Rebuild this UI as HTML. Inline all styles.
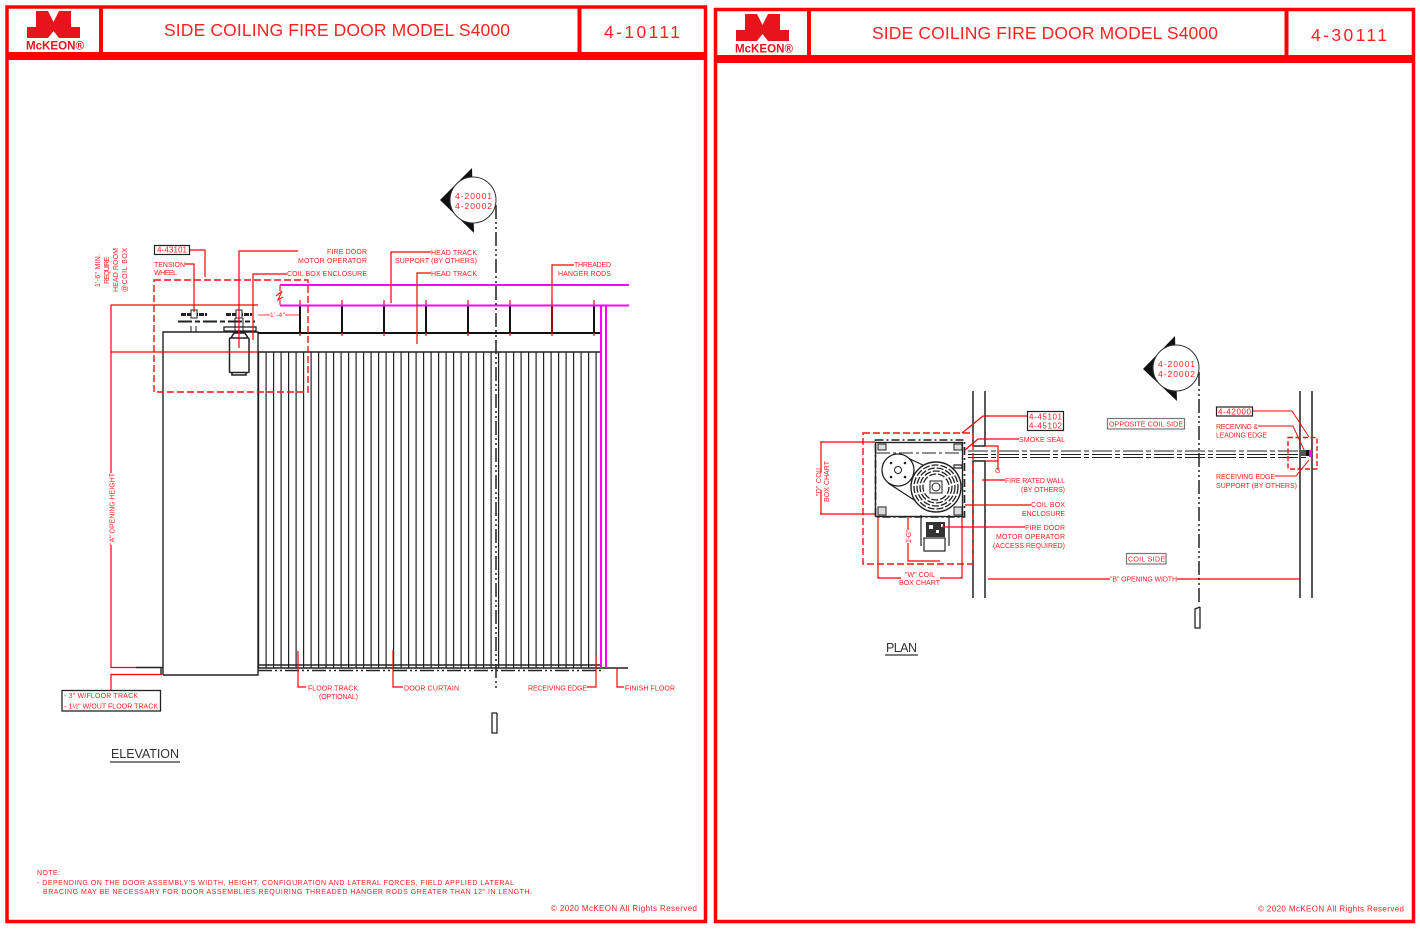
<!DOCTYPE html>
<html><head><meta charset="utf-8"><style>
html,body{margin:0;padding:0;background:#fff}
svg{display:block;filter:blur(.3px)}
text{font-family:"Liberation Sans",sans-serif;fill:#ff2020;font-size:7px}
.t{font-size:17.500px;fill:#f22}
.k{fill:#333;font-size:12.500px}
.l{stroke:#f00;stroke-width:1.200;fill:none}
.m{stroke:#f0f;stroke-width:2;fill:none}
.b{stroke:#222;stroke-width:1.200;fill:none}
.bb{stroke:#111;stroke-width:2;fill:none}
.d{stroke:#f11;stroke-width:1.400;fill:none;stroke-dasharray:7 3}
.s{stroke:#222;stroke-width:1.500;fill:none;stroke-dasharray:14 3 2 3 2 3}
</style></head><body>
<svg width="1420" height="929" viewBox="0 0 1420 929" xmlns="http://www.w3.org/2000/svg">
<rect width="1420" height="929" fill="#fff"/>

<!-- LEFT FRAME -->
<g fill="none" stroke="#f00">
<rect x="7" y="7" width="698.500" height="914.500" stroke-width="3.500"/>
<path d="M101 7V53M579.500 7V53" stroke-width="4"/>
</g>
<rect x="6" y="52" width="701" height="8" fill="#f00"/>
<polygon points="36,11 48,11 53.500,22 59,11 71,11 71,27 80,27 80,38 59,38 53.500,31 48,38 27,38 27,27 36,27" fill="#e8141c"/>
<text x="26" y="49.500" style="font-size:11.500px;font-weight:bold;fill:#e8141c" textLength="58" lengthAdjust="spacingAndGlyphs">McKEON®</text>
<text class="t" x="164" y="36" textLength="346">SIDE COILING FIRE DOOR MODEL S4000</text>
<text class="t" x="604" y="38" textLength="76">4-10111</text>

<!-- RIGHT FRAME -->
<g fill="none" stroke="#f00">
<rect x="715.500" y="9.500" width="698" height="912" stroke-width="3.500"/>
<path d="M809 9V55M1286.500 9V55" stroke-width="4"/>
</g>
<rect x="714" y="55" width="701" height="8" fill="#f00"/>
<polygon points="745,14 757,14 762.500,25 768,14 780,14 780,30 789,30 789,41 768,41 762.500,34 757,41 736,41 736,30 745,30" fill="#e8141c"/>
<text x="735" y="52.500" style="font-size:11.500px;font-weight:bold;fill:#e8141c" textLength="58" lengthAdjust="spacingAndGlyphs">McKEON®</text>
<text class="t" x="872" y="39" textLength="346">SIDE COILING FIRE DOOR MODEL S4000</text>
<text class="t" x="1311" y="41" textLength="76">4-30111</text>

<!-- ELEVATION -->
<line x1="258" y1="510" x2="601" y2="510" stroke="#222" stroke-width="316" stroke-dasharray="1.200 6.300"/>
<path class="b" d="M163 675V332H258V675H163M258 352H601V668M258 665H601M258 668H628M136 667.500H163M161 667V675" style="stroke-width:1.400"/>
<path class="s" d="M258 670.500H601"/>
<path class="bb" d="M258 333H600"/>
<path class="bb" d="M300 305V333M342 305V333M384 305V333M426 305V333M468 305V333M510 305V333M552 305V333M594 305V333"/>
<path class="l" d="M300 300V336M342 300V336M384 300V336M426 300V336M468 300V336M510 300V336M552 300V336M594 300V336" stroke-dasharray="5 28"/>
<path class="m" d="M280 285H629M280 305.500H629M601 306V668M606 306V668"/>
<path class="b" d="M280 291V285M280 305V300M276 296L282 291L278 300L283 297" style="stroke:#f22"/>
<!-- wheels -->
<g stroke="#222" fill="none">
<path d="M181 314.500H207M226 314.500H252" stroke-width="3" stroke-dasharray="5 1"/>
<path d="M178 321.500H255" stroke-width="2" stroke-dasharray="14 3 5 3"/>
<rect x="191" y="310" width="6" height="8" fill="#fff"/>
<rect x="236" y="310" width="6" height="8" fill="#fff"/>
<path d="M191 326V332M196 326V332M235 318V333M243 318V333"/>
<rect x="224" y="327" width="32" height="4" stroke-width="1.300"/>
<rect x="229.500" y="338" width="19.500" height="34.500" rx="1" stroke-width="1.500"/>
<path d="M232 373V375H246V373M231 338L234 333H245L248 338" stroke-width="1.600"/>
</g>
<path class="d" d="M154 280H308V392H154Z"/>
<path class="l" d="M111 305V473M111 545V668M111 305H258M111 352H258M111 667.500H136M111 690V674.500H162"/>
<text transform="translate(114.500 545) rotate(-90)" textLength="72">"A" OPENING HEIGHT</text>
<path class="l" d="M190 250H205V277M185 264H194V312M298 251H239V348M287 274H253V340"/>
<path class="l" d="M258 315H270M285 315H299" style="stroke-width:.8"/>
<text x="270" y="317" style="font-size:6.500px" textLength="15">1'-4"</text>
<rect x="154.500" y="245.500" width="35" height="9" fill="#fff" stroke="#222" stroke-width="1.200"/>
<text x="157" y="252.500" style="font-size:8px" textLength="30">4-43101</text>
<text x="154" y="267" textLength="31">TENSION</text>
<text x="154" y="275" textLength="23">WHEEL</text>
<text x="327" y="254" textLength="40">FIRE DOOR</text>
<text x="298" y="263" textLength="69">MOTOR OPERATOR</text>
<text x="287" y="276" textLength="80">COIL BOX ENCLOSURE</text>
<g transform="rotate(-90 0 0)">
<text x="-287" y="100" textLength="33">1'-6" MIN.</text>
<text x="-284" y="109" textLength="27">REQUIRE</text>
<text x="-292" y="118" textLength="44">HEAD ROOM</text>
<text x="-292" y="127" textLength="44">@COIL BOX</text>
</g>

<path class="l" d="M431 252H391V303M431 273H417V344M574 265H552V333"/>
<text x="431" y="255" textLength="46">HEAD TRACK</text>
<text x="395" y="263" textLength="82">SUPPORT (BY OTHERS)</text>
<text x="431" y="276" textLength="46">HEAD TRACK</text>
<text x="574" y="267" textLength="37">THREADED</text>
<text x="558" y="276" textLength="53">HANGER RODS</text>

<path class="s" d="M496 205V690"/>
<path class="b" d="M497 713H492V733H497V713" style="stroke-width:1.300"/>
<polygon points="440,200 472,168 474,233" fill="#111"/>
<circle cx="473" cy="200" r="23" fill="#fff" stroke="#333" stroke-width="1"/>
<text x="455" y="199" style="font-size:8.500px" textLength="37">4-20001</text>
<text x="455" y="209" style="font-size:8.500px" textLength="37">4-20002</text>

<path class="l" d="M298 651V687H306M393 650V687H403M596 655V687H587M617 668V687H624"/>
<text x="308" y="690.500" textLength="50">FLOOR TRACK</text>
<text x="319" y="699" textLength="39">(OPTIONAL)</text>
<text x="404" y="690.500" textLength="55">DOOR CURTAIN</text>
<text x="528" y="690.500" textLength="59">RECEIVING EDGE</text>
<text x="625" y="690.500" textLength="50">FINISH FLOOR</text>
<rect x="62" y="690.500" width="98.500" height="20.500" fill="#fff" stroke="#222" stroke-width="1.300"/>
<text x="64" y="698" textLength="74">- 3" W/FLOOR TRACK</text>
<text x="64" y="708.500" textLength="94">- 1½" W/OUT FLOOR TRACK</text>
<text class="k" x="111" y="758" textLength="68">ELEVATION</text>
<path d="M110 762H180" stroke="#333" stroke-width="1.300"/>

<text x="37" y="875" textLength="23">NOTE:</text>
<text x="37" y="885" textLength="477">- DEPENDING ON THE DOOR ASSEMBLY'S WIDTH, HEIGHT, CONFIGURATION AND LATERAL FORCES, FIELD APPLIED LATERAL</text>
<text x="43" y="894" textLength="489">BRACING MAY BE NECESSARY FOR DOOR ASSEMBLIES REQUIRING THREADED HANGER RODS GREATER THAN 12" IN LENGTH.</text>
<text x="551" y="911" style="font-size:8px" textLength="146">© 2020 McKEON All Rights Reserved</text>

<!-- PLAN -->
<path class="b" style="stroke-width:1.500" d="M973 391V446H985V391M973 598V461H985V598M1300 391V598M1312 391V598"/>
<path d="M968 451H1308M968 454.500H1308M968 457.500H1308" stroke="#222" stroke-width="1" stroke-dasharray="20 3 5 3"/>
<path class="l" d="M820 442H875M820 514H875M821 442V473M821 490V514M878 517V578H901M962 517V578H940M908 517V530M908 543V561H940"/>
<rect x="875.500" y="442.500" width="87" height="74" fill="#fff" stroke="#222" stroke-width="1.400"/>
<rect x="875.500" y="440" width="89" height="77" fill="none" stroke="#222" stroke-width="1.600" stroke-dasharray="8 3 2 3"/>
<path d="M878 444H886V450H878ZM878 507H886V515H878ZM954 444H962V450H954ZM954 507H962V515H954Z" fill="#ddd" stroke="#222"/>
<path class="b" d="M954 465H962V468H954Z"/>
<path d="M876 453H962" stroke="#222" stroke-width="1" stroke-dasharray="14 3 3 3"/>
<circle cx="898" cy="470" r="16" fill="#fff" stroke="#222" stroke-width="1.300"/>
<circle cx="898" cy="470" r="3.500" fill="none" stroke="#222"/>
<g fill="#222"><circle cx="891" cy="463" r="1.300"/><circle cx="905" cy="463" r="1.300"/><circle cx="891" cy="477" r="1.300"/><circle cx="905" cy="477" r="1.300"/></g>
<path class="b" d="M888 483L925 507M910 459L925 466"/>
<circle cx="936" cy="487" r="25" fill="#fff" stroke="#222" stroke-width="1.400"/>
<g fill="none" stroke="#222" stroke-width="1.300" stroke-dasharray="7 2">
<circle cx="936" cy="487" r="22"/><circle cx="936" cy="487" r="19"/><circle cx="936" cy="487" r="16"/><circle cx="936" cy="487" r="13"/>
</g>
<rect x="930" y="481" width="12" height="12" fill="#fff" stroke="#222"/>
<circle cx="936" cy="487" r="4" fill="none" stroke="#222"/>
<path class="b" d="M921 515V546M949 515V546"/>
<rect x="924" y="538" width="21" height="13" fill="#fff" stroke="#222" stroke-width="1.200"/>
<rect x="926" y="522" width="19" height="15" fill="#333"/>
<rect x="929" y="525" width="4" height="4" fill="#fff"/><rect x="936" y="530" width="3" height="3" fill="#fff"/><rect x="941" y="524" width="2" height="3" fill="#fff"/>
<path class="d" d="M863 433H973V564H863Z"/>
<path class="l" d="M1027 416H983L962 433M1019 439H978L965 450M985 446H998V470M985 461H998M1005 480H982M1031 505H965M1025 527H942M988 579H1110M1177 579H1300"/>
<rect x="1027.500" y="411.500" width="36" height="19" fill="#fff" stroke="#222" stroke-width="1.200"/>
<text x="1029" y="419.500" style="font-size:8px" textLength="33">4-45101</text>
<text x="1029" y="428.500" style="font-size:8px" textLength="33">4-45102</text>
<text x="1019" y="442" textLength="46">SMOKE SEAL</text>
<text x="1005" y="483" textLength="60">FIRE RATED WALL</text>
<text x="1021" y="492" textLength="44">(BY OTHERS)</text>
<text x="1031" y="507" textLength="34">COIL BOX</text>
<text x="1022" y="516" textLength="43">ENCLOSURE</text>
<text x="1025" y="530" textLength="40">FIRE DOOR</text>
<text x="996" y="539" textLength="69">MOTOR OPERATOR</text>
<text x="993" y="548" textLength="72">(ACCESS REQUIRED)</text>
<text x="905" y="577" textLength="30">"W" COIL</text>
<text x="899" y="585" textLength="41">BOX CHART</text>
<text x="995" y="473" style="font-size:7px">G</text>
<text transform="translate(911 543) rotate(-90)" style="font-size:7px" textLength="13">1'-G"</text>
<text transform="translate(821 496) rotate(-90)" textLength="30">"D" COIL</text>
<text transform="translate(829 502) rotate(-90)" textLength="41">BOX CHART</text>

<path class="s" d="M1199 372V605"/>
<path class="b" d="M1200 607L1195 609V628H1200V607" style="stroke-width:1.300"/>
<polygon points="1143,369 1175,336 1177,401" fill="#111"/>
<circle cx="1176" cy="368" r="23" fill="#fff" stroke="#333" stroke-width="1"/>
<text x="1158" y="367" style="font-size:8.500px" textLength="37">4-20001</text>
<text x="1158" y="377" style="font-size:8.500px" textLength="37">4-20002</text>

<path class="l" d="M1253 411H1292L1309 437M1258 426H1293L1305 452M1275 476H1296L1309 460" style="stroke-width:.9"/>
<path class="d" d="M1288 437.500H1317V469H1288Z" style="stroke-dasharray:5 2.500"/>
<rect x="1300" y="450" width="6" height="6" fill="#555"/>
<rect x="1306" y="450" width="3" height="6" fill="#111"/>
<rect x="1309" y="450" width="3" height="7" fill="#f0f"/>
<rect x="1216.500" y="407" width="36" height="9" fill="#fff" stroke="#222" stroke-width="1.200"/>
<text x="1218" y="414.500" style="font-size:8px" textLength="33">4-42000</text>
<text x="1216" y="429" textLength="42">RECEIVING &amp;</text>
<text x="1216" y="437.500" textLength="51">LEADING EDGE</text>
<text x="1216" y="479" textLength="59">RECEIVING EDGE</text>
<text x="1216" y="488" textLength="81">SUPPORT (BY OTHERS)</text>

<rect x="1107.500" y="418.500" width="77" height="10.500" fill="#fff" stroke="#777" stroke-width="1.200"/>
<text x="1109" y="426.500" textLength="74">OPPOSITE COIL SIDE</text>
<rect x="1126.500" y="553.500" width="39.500" height="10.500" fill="#fff" stroke="#777" stroke-width="1.200"/>
<text x="1128" y="561.500" textLength="37">COIL SIDE</text>
<text x="1110" y="581.500" textLength="67">"B" OPENING WIDTH</text>
<text class="k" x="886" y="652" textLength="31">PLAN</text>
<path d="M885 655H918" stroke="#333" stroke-width="1.300"/>
<text x="1258" y="911.500" style="font-size:8px" textLength="146">© 2020 McKEON All Rights Reserved</text>
</svg>
</body></html>
